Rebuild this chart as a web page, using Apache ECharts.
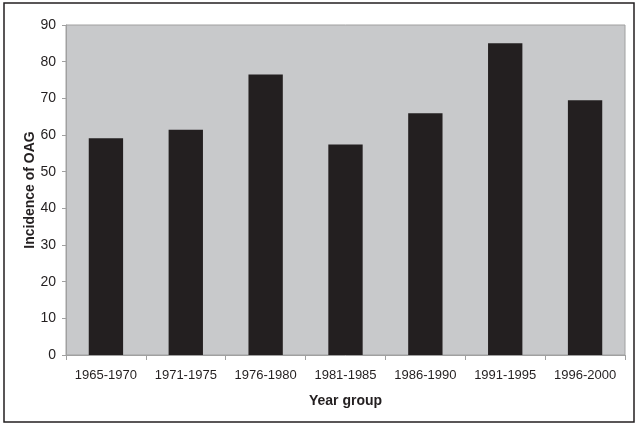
<!DOCTYPE html>
<html>
<head>
<meta charset="utf-8">
<script src="https://cdn.jsdelivr.net/npm/echarts@6/dist/echarts.min.js"></script>
<style>
  html, body { margin: 0; padding: 0; background: #fff; }
  #chart { width: 639px; height: 428px; }
</style>
</head>
<body>
<div id="chart"></div>
<script>
const yearGroups = ['1965-1970', '1971-1975', '1976-1980', '1981-1985', '1986-1990', '1991-1995', '1996-2000']
const incidence = [59.1, 61.4, 76.5, 57.4, 65.9, 85.0, 69.5]

const chart = echarts.init(document.getElementById('chart'))
chart.setOption({
  animation: false,
  textStyle: { fontFamily: 'Liberation Sans, Arial, sans-serif' },
  graphic: [
    {
      type: 'rect',
      shape: { x: 4, y: 3, width: 630, height: 419 },
      style: { fill: 'none', stroke: '#231f20', lineWidth: 1.5 },
      z: 100
    }
  ],
  grid: {
    left: 66,
    right: 14,
    top: 25,
    bottom: 73,
    show: true,
    backgroundColor: '#c8c9cb',
    borderColor: '#a0a0a0',
    borderWidth: 1
  },
  xAxis: {
    type: 'category',
    data: yearGroups,
    name: 'Year group',
    nameLocation: 'middle',
    nameGap: 39,
    nameMoveOverlap: false,
    nameTextStyle: { fontWeight: 'bold', fontSize: 14, color: '#231f20' },
    axisLine: { lineStyle: { color: '#a0a0a0' } },
    axisTick: { show: true, length: 5, lineStyle: { color: '#a0a0a0' } },
    axisLabel: { color: '#231f20', fontSize: 13, margin: 14, interval: 0 }
  },
  yAxis: {
    type: 'value',
    min: 0,
    max: 90,
    interval: 10,
    name: 'Incidence of OAG',
    nameLocation: 'middle',
    nameGap: 29,
    nameMoveOverlap: false,
    nameTextStyle: { fontWeight: 'bold', fontSize: 14, color: '#231f20' },
    axisLine: { show: true, lineStyle: { color: '#a0a0a0' } },
    axisTick: { show: true, length: 4, lineStyle: { color: '#a0a0a0' } },
    axisLabel: { color: '#231f20', fontSize: 14, margin: 10 },
    splitLine: { show: false }
  },
  series: [
    {
      type: 'bar',
      data: incidence,
      barWidth: '43%',
      itemStyle: { color: '#231f20' }
    }
  ]
})
</script>
</body>
</html>
